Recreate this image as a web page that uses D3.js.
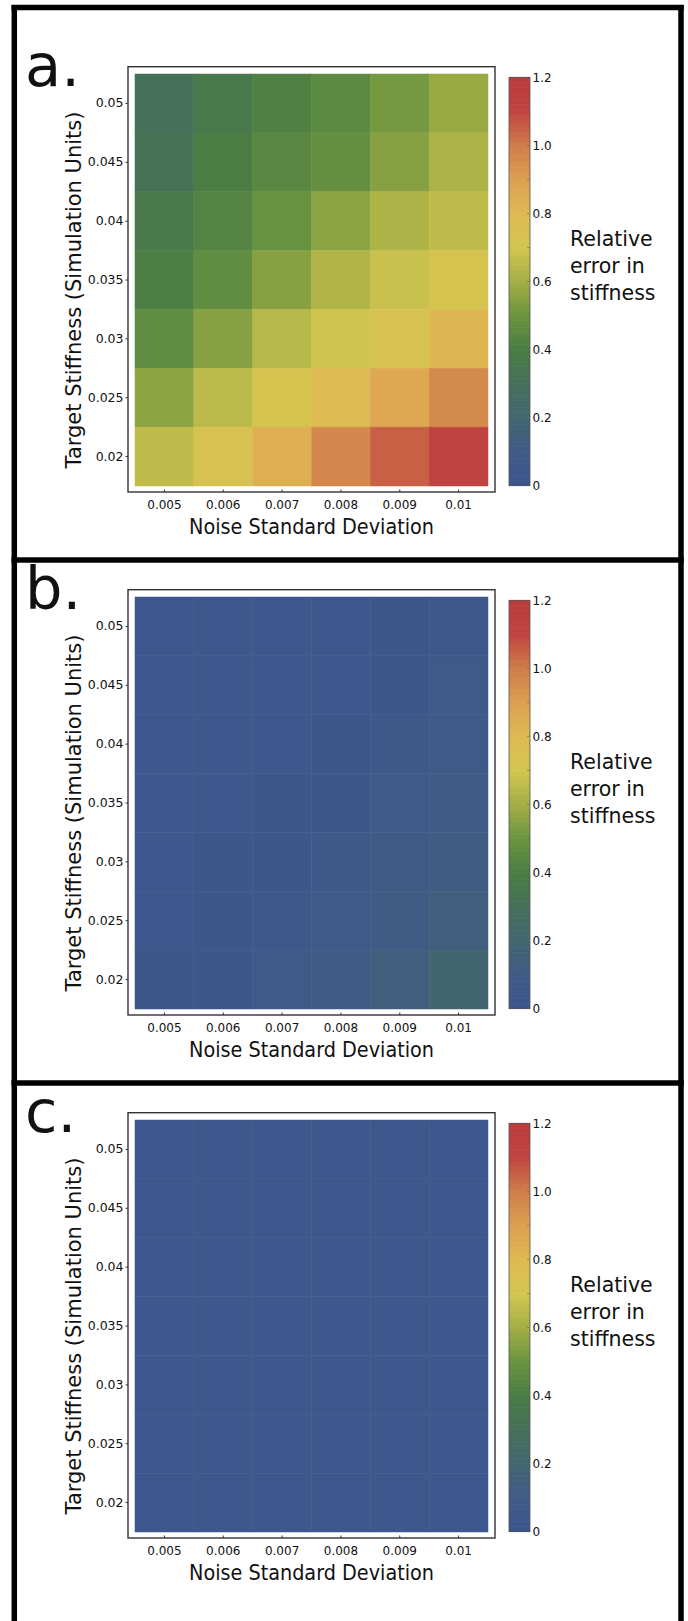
<!DOCTYPE html>
<html>
<head>
<meta charset="utf-8">
<script src="https://cdn.jsdelivr.net/npm/d3@7"></script>
<style>
body { margin: 0; background: #fff; }
text { font-family: "DejaVu Sans", sans-serif; fill: #111; }
</style>
</head>
<body>
<div id="chart"></div>
<script>
// axis categories
var noiseSD = [0.005, 0.006, 0.007, 0.008, 0.009, 0.01];
var stiffness = [0.05, 0.045, 0.04, 0.035, 0.03, 0.025, 0.02];
var noiseLabels = ["0.005", "0.006", "0.007", "0.008", "0.009", "0.01"];
var stiffLabels = ["0.05", "0.045", "0.04", "0.035", "0.03", "0.025", "0.02"];
var cbarTicks = [0, 0.2, 0.4, 0.6, 0.8, 1.0, 1.2];
var cbarLabels = ["0", "0.2", "0.4", "0.6", "0.8", "1.0", "1.2"];
var panelNames = ["a.", "b.", "c."];

// relative error, rows follow stiffness (top to bottom), cols follow noiseSD
var errA = [
	[0.30, 0.37, 0.42, 0.46, 0.52, 0.58],
	[0.32, 0.40, 0.45, 0.48, 0.55, 0.62],
	[0.37, 0.43, 0.49, 0.56, 0.62, 0.66],
	[0.41, 0.47, 0.55, 0.63, 0.68, 0.72],
	[0.47, 0.55, 0.64, 0.69, 0.74, 0.81],
	[0.56, 0.65, 0.72, 0.79, 0.87, 0.96],
	[0.66, 0.74, 0.84, 0.97, 1.05, 1.13]
];
var errB = [
	[0.03, 0.03, 0.03, 0.03, 0.04, 0.05],
	[0.03, 0.03, 0.03, 0.03, 0.04, 0.07],
	[0.03, 0.03, 0.03, 0.04, 0.06, 0.08],
	[0.03, 0.03, 0.04, 0.04, 0.08, 0.10],
	[0.03, 0.04, 0.04, 0.06, 0.10, 0.12],
	[0.03, 0.04, 0.05, 0.08, 0.11, 0.14],
	[0.04, 0.04, 0.07, 0.10, 0.14, 0.19]
];
var errC = [
	[0.03, 0.03, 0.03, 0.03, 0.03, 0.03],
	[0.03, 0.03, 0.03, 0.03, 0.03, 0.03],
	[0.03, 0.03, 0.03, 0.03, 0.03, 0.03],
	[0.03, 0.03, 0.03, 0.03, 0.03, 0.03],
	[0.03, 0.03, 0.03, 0.03, 0.03, 0.03],
	[0.03, 0.03, 0.03, 0.03, 0.03, 0.03],
	[0.03, 0.03, 0.03, 0.03, 0.03, 0.03]
];
var panels = [errA, errB, errC];

// colormap
var cmapStops = [0, 0.1, 0.2, 0.3, 0.4, 0.5, 0.6, 0.7, 0.8, 0.9, 1.0, 1.1, 1.2];
var cmapColors = ["#3d558f", "#405a86", "#436670", "#46705a", "#4a7c44", "#6a943f", "#a3ae44",
	"#d3c650", "#deb952", "#dca050", "#cf7c4a", "#c04440", "#ba3c3c"];

var W = 688, H = 1621, step = 523;
var color = d3.scaleLinear().domain(cmapStops).range(cmapColors).clamp(true);

var svg = d3.select("#chart").append("svg")
	.attr("width", W)
	.attr("height", H);
svg.append("rect").attr("width", W).attr("height", H).attr("fill", "#fff");

panels.forEach(function(vals, p) {
	var g = svg.append("g").attr("transform", "translate(0," + (p * step) + ")");

	var x = d3.scaleBand().domain(noiseSD).range([135, 488]);
	var y = d3.scaleBand().domain(stiffness).range([74, 486]);

	var cells = [];
	vals.forEach(function(row, i) {
		row.forEach(function(v, j) {
			cells.push({s: stiffness[i], n: noiseSD[j], v: v});
		});
	});

	g.selectAll(".cell")
		.data(cells)
		.enter().append("rect")
		.attr("class", "cell")
		.attr("x", function(d) { return x(d.n); })
		.attr("y", function(d) { return y(d.s); })
		.attr("width", x.bandwidth())
		.attr("height", y.bandwidth())
		.attr("fill", function(d) { return color(d.v); })
		.attr("stroke", function(d) { return color(d.v); })
		.attr("stroke-width", 0.5);

	// frame
	g.append("rect")
		.attr("x", 128).attr("y", 66.7)
		.attr("width", 367).attr("height", 425.3)
		.attr("fill", "none")
		.attr("stroke", "#333")
		.attr("stroke-width", 1.4);

	//x axis
	var xAxis = g.append("g")
		.attr("transform", "translate(0,492)")
		.call(d3.axisBottom(x).tickSizeInner(-2.5).tickSizeOuter(0)
			.tickFormat(function(d, i) { return noiseLabels[i]; }));
	xAxis.select(".domain").remove();
	xAxis.selectAll("line").attr("stroke", "#333");
	xAxis.selectAll("text")
		.attr("y", 8).attr("dy", "0.71em")
		.style("font-size", "12px")
		.style("font-family", "DejaVu Sans");

	//y axis
	var yAxis = g.append("g")
		.attr("transform", "translate(128,0)")
		.call(d3.axisLeft(y).tickSizeInner(2.5).tickSizeOuter(0).tickPadding(2)
			.tickFormat(function(d, i) { return stiffLabels[i]; }));
	yAxis.select(".domain").remove();
	yAxis.selectAll("line").attr("stroke", "#333");
	yAxis.selectAll("text")
		.style("font-size", "12.5px")
		.style("font-family", "DejaVu Sans");

	g.append("text")
		.attr("x", 311.5)
		.attr("y", 534)
		.attr("text-anchor", "middle")
		.attr("textLength", 245)
		.attr("lengthAdjust", "spacingAndGlyphs")
		.style("font-size", "22px")
		.text("Noise Standard Deviation");

	g.append("text")
		.attr("transform", "translate(81,290) rotate(-90)")
		.attr("text-anchor", "middle")
		.style("font-size", "21px")
		.text("Target Stiffness (Simulation Units)");

	// panel letter
	g.append("text")
		.attr("x", 25)
		.attr("y", 86)
		.style("font-size", "59px")
		.text(panelNames[p]);

	// colorbar
	var cy = d3.scaleLinear().domain([0, 1.2]).range([485.7, 77.3]);
	var slices = d3.range(0, 1.2, 0.005);
	g.selectAll(".cb")
		.data(slices)
		.enter().append("rect")
		.attr("class", "cb")
		.attr("x", 509)
		.attr("width", 21)
		.attr("y", function(d) { return cy(d + 0.005) - 0.3; })
		.attr("height", function(d) { return cy(d) - cy(d + 0.005) + 0.6; })
		.attr("fill", function(d) { return color(d + 0.0025); });
	g.append("rect")
		.attr("x", 509).attr("y", cy(1.2))
		.attr("width", 21).attr("height", cy(0) - cy(1.2))
		.attr("fill", "none")
		.attr("stroke", "#555")
		.attr("stroke-width", 0.8);
	g.selectAll(".cbminor")
		.data(d3.range(1, 12))
		.enter().append("line")
		.attr("x1", 527).attr("x2", 530)
		.attr("y1", function(d) { return cy(d / 10); })
		.attr("y2", function(d) { return cy(d / 10); })
		.attr("stroke", "#666")
		.attr("stroke-width", 0.6);
	g.selectAll(".cbl")
		.data(cbarTicks)
		.enter().append("text")
		.attr("x", 532.5)
		.attr("y", function(d) { return cy(d); })
		.attr("dy", "0.35em")
		.style("font-size", "12px")
		.text(function(d, i) { return cbarLabels[i]; });

	var lab = g.append("text").style("font-size", "20.5px");
	["Relative", "error in", "stiffness"].forEach(function(t, i) {
		lab.append("tspan").attr("x", 570).attr("y", 246 + i * 27).text(t);
	});
});

// outer boxes
var bw = 5.5;
svg.append("line").attr("x1", 14.3).attr("x2", 14.3).attr("y1", 5).attr("y2", H)
	.attr("stroke", "#000").attr("stroke-width", bw);
svg.append("line").attr("x1", 681).attr("x2", 681).attr("y1", 5).attr("y2", H)
	.attr("stroke", "#000").attr("stroke-width", bw);
[7.5, 560, 560 + step].forEach(function(yy) {
	svg.append("line").attr("x1", 11.5).attr("x2", 683.8).attr("y1", yy).attr("y2", yy)
		.attr("stroke", "#000").attr("stroke-width", bw);
});
</script>
</body>
</html>
